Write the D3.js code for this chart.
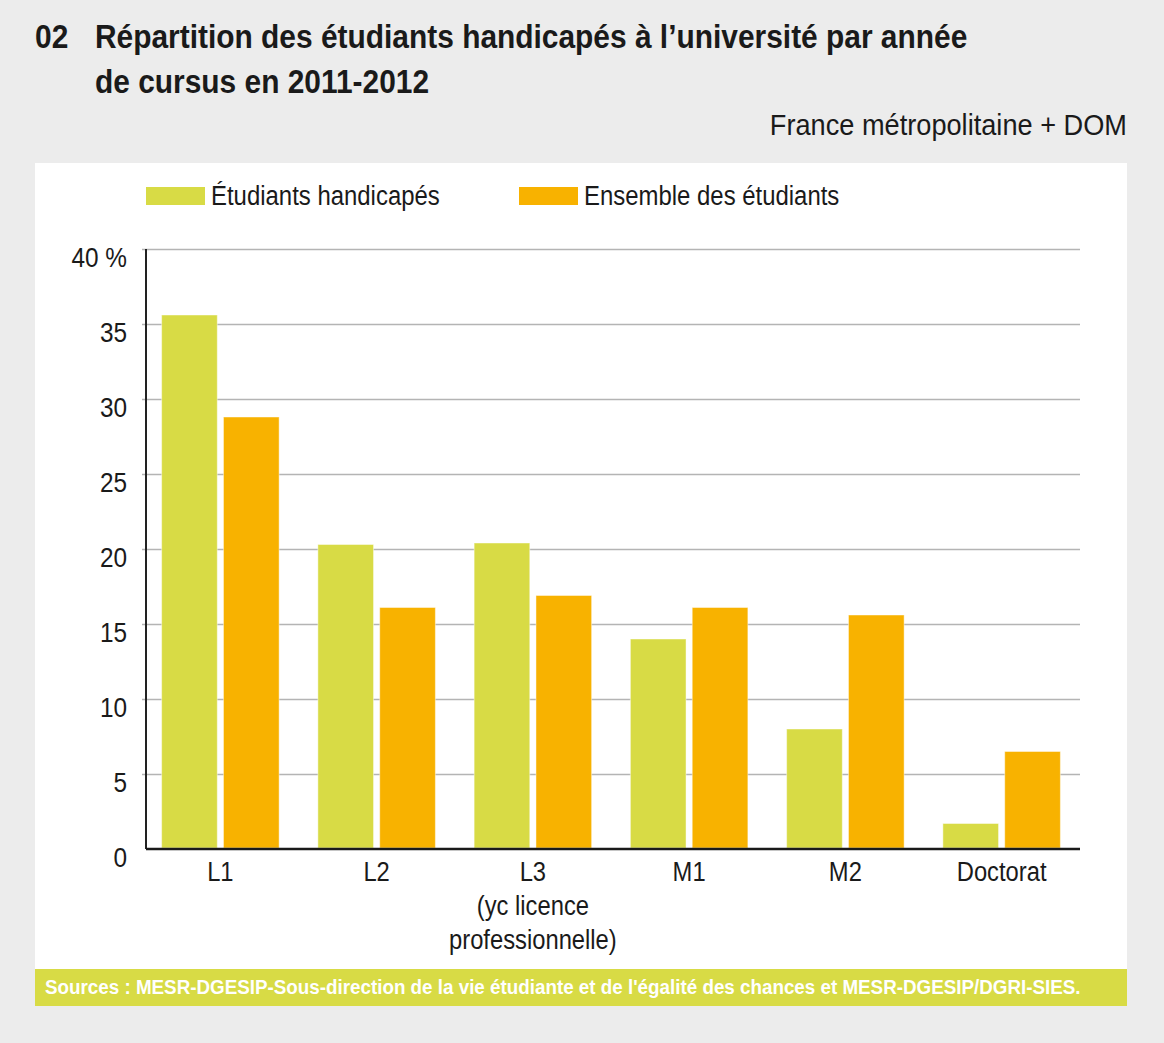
<!DOCTYPE html>
<html>
<head>
<meta charset="utf-8">
<script src="https://cdn.jsdelivr.net/npm/d3@7"></script>
<style>
  body { margin: 0; background: #ececec; }
  text { font-family: "Liberation Sans", Arial, sans-serif; fill: #1a1a1a; }
</style>
</head>
<body>
<div id="chart"></div>
<script>
const categories = ['L1', 'L2', 'L3', 'M1', 'M2', 'Doctorat'];
const categoryLabels = [['L1'], ['L2'], ['L3', '(yc licence', 'professionnelle)'], ['M1'], ['M2'], ['Doctorat']];
const handicapes = [35.6, 20.3, 20.4, 14.0, 8.0, 1.7];
const ensemble = [28.8, 16.1, 16.9, 16.1, 15.6, 6.5];
const yTicks = [0, 5, 10, 15, 20, 25, 30, 35, 40];
const seriesKeys = ['handicapes', 'ensemble'];
const seriesNames = ['Étudiants handicapés', 'Ensemble des étudiants'];
const colors = ['#d8db45', '#f8b200'];

const W = 1164;
const H = 1043;
const plot = { left: 146, right: 1076, axisEnd: 1080, top: 249, bottom: 849 };

const data = categories.map((c, i) => ({
  cat: c,
  handicapes: handicapes[i],
  ensemble: ensemble[i]
}));

// the source font is a condensed sans; squeeze the installed one to match
function condense(sel, k) {
  sel.each(function () {
    const len = this.getComputedTextLength();
    d3.select(this)
      .attr('textLength', len * k)
      .attr('lengthAdjust', 'spacingAndGlyphs');
  });
}

const svg = d3.select('#chart')
  .append('svg')
  .attr('width', W)
  .attr('height', H);

svg.append('rect')
  .attr('width', W).attr('height', H)
  .attr('fill', '#ececec');

// white panel
svg.append('rect')
  .attr('x', 35).attr('y', 163)
  .attr('width', 1092).attr('height', 806)
  .attr('fill', '#ffffff');

// sources band
svg.append('rect')
  .attr('x', 35).attr('y', 969)
  .attr('width', 1092).attr('height', 37)
  .attr('fill', '#d8db45');

svg.append('text')
  .attr('x', 45).attr('y', 994)
  .style('fill', '#ffffff')
  .style('font-weight', 'bold')
  .style('font-size', '20px')
  .text('Sources : MESR-DGESIP-Sous-direction de la vie étudiante et de l\'égalité des chances et MESR-DGESIP/DGRI-SIES.')
  .call(condense, 0.94);

// title
const title = svg.append('g')
  .style('font-weight', 'bold')
  .style('font-size', '33px');

title.append('text').attr('x', 35).attr('y', 48).style('font-weight', 'bold').text('02');
title.append('text').attr('x', 95).attr('y', 48).style('font-weight', 'bold')
  .text('Répartition des étudiants handicapés à l’université par année');
title.append('text').attr('x', 95).attr('y', 93).style('font-weight', 'bold')
  .text('de cursus en 2011-2012');
title.selectAll('text').call(condense, 0.906);

svg.append('text')
  .attr('x', 1127).attr('y', 135)
  .attr('text-anchor', 'end')
  .style('font-size', '29px')
  .text('France métropolitaine + DOM')
  .call(condense, 0.937);

// scales
const x0 = d3.scaleBand()
  .domain(categories)
  .range([plot.left, plot.right])
  .paddingInner(0.248)
  .paddingOuter(0.1);

const x1 = d3.scaleBand()
  .domain(seriesKeys)
  .range([0, x0.bandwidth()])
  .paddingInner(0.1);

const y = d3.scaleLinear()
  .domain([0, 40])
  .range([plot.bottom, plot.top]);

const color = d3.scaleOrdinal().domain(seriesKeys).range(colors);

// grid
svg.append('g')
  .attr('class', 'grid')
  .attr('transform', `translate(${plot.axisEnd},0)`)
  .call(d3.axisLeft(y).tickValues(yTicks.slice(1)).tickFormat('').tickSize(plot.axisEnd - plot.left + 4).tickSizeOuter(0))
  .call((g) => g.select('.domain').remove())
  .call((g) => g.selectAll('line').attr('stroke', '#b4b4b4').attr('stroke-width', 1.5));

// y tick labels (sit a little below their gridline in the original)
svg.append('g')
  .attr('class', 'yaxis')
  .attr('transform', `translate(${plot.left - 19},0)`)
  .call(d3.axisLeft(y).tickValues(yTicks).tickSize(0).tickPadding(0)
    .tickFormat((d) => (d === 40 ? '40 %' : d)))
  .call((g) => g.select('.domain').remove())
  .call((g) => g.selectAll('text')
    .style('font-size', '28px')
    .style('font-family', '"Liberation Sans", Arial, sans-serif')
    .style('fill', '#1a1a1a')
    .attr('dy', '0.62em')
    .call(condense, 0.87));

// bars
const groups = svg.append('g')
  .selectAll('g')
  .data(data)
  .enter()
  .append('g')
  .attr('transform', (d) => `translate(${x0(d.cat)},0)`);

groups.selectAll('rect')
  .data((d) => seriesKeys.map((k) => ({ key: k, value: d[k] })))
  .enter()
  .append('rect')
  .attr('x', (d) => x1(d.key))
  .attr('y', (d) => y(d.value))
  .attr('width', x1.bandwidth())
  .attr('height', (d) => y(0) - y(d.value) - 1)
  .attr('fill', (d) => color(d.key))
  .attr('stroke', 'rgba(255,255,255,0.45)')
  .attr('stroke-width', 1);

// y axis line
svg.append('line')
  .attr('x1', plot.left).attr('x2', plot.left)
  .attr('y1', plot.top).attr('y2', plot.bottom)
  .attr('stroke', '#222').attr('stroke-width', 2);

// x axis
const xAxis = svg.append('g')
  .attr('class', 'xaxis')
  .attr('transform', `translate(0,${plot.bottom})`)
  .call(d3.axisBottom(x0).tickSize(0).tickSizeOuter(0).tickFormat(''));

xAxis.select('.domain')
  .attr('d', `M${plot.left},0H${plot.axisEnd}`)
  .attr('stroke', '#1a1a1a')
  .attr('stroke-width', 2.5);

xAxis.selectAll('.tick').each(function (d, i) {
  const t = d3.select(this).append('text')
    .attr('text-anchor', 'middle')
    .style('font-size', '27px')
    .style('fill', '#1a1a1a');
  categoryLabels[i].forEach((line, j) => {
    t.append('tspan')
      .attr('x', 0)
      .attr('y', 32 + j * 34)
      .text(line)
      .call(condense, 0.88);
  });
});

// legend
const legend = svg.append('g')
  .selectAll('g')
  .data(seriesKeys)
  .enter()
  .append('g')
  .attr('transform', (d, i) => `translate(${[146, 519][i]},187)`);

legend.append('rect')
  .attr('width', 59).attr('height', 18)
  .attr('fill', (d) => color(d));

legend.append('text')
  .attr('x', 65).attr('y', 18)
  .style('font-size', '27px')
  .text((d, i) => seriesNames[i])
  .call(condense, 0.886);
</script>
</body>
</html>
